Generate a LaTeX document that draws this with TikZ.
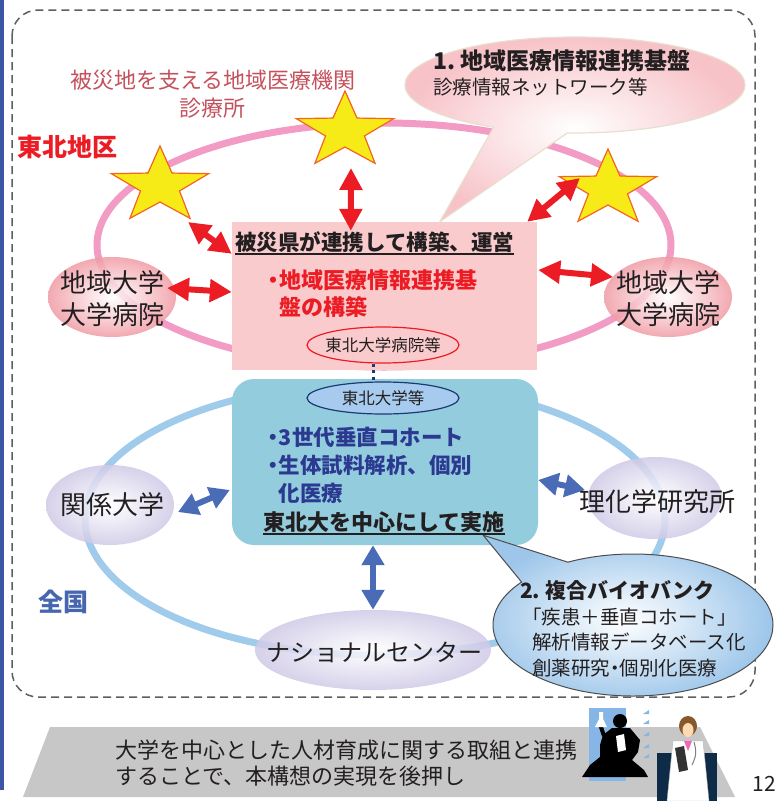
\documentclass[tikz,border=0pt]{standalone}
\usepackage{fontspec}
\setmainfont{Noto Sans CJK JP}
\usetikzlibrary{
    arrows.meta,
    shapes.geometric,
    shapes.callouts,
    calc,
    positioning
}

\definecolor{barblue}{HTML}{3A56A5}
\definecolor{framegray}{HTML}{5E5E5E}
\definecolor{ringpink}{HTML}{F29BC5}
\definecolor{ringblue}{HTML}{A0CBEB}
\definecolor{staryel}{HTML}{F6EB16}
\definecolor{starline}{HTML}{F26522}
\definecolor{hitpink}{HTML}{F9CBCD}
\definecolor{arrred}{HTML}{EC1C24}
\definecolor{arrblue}{HTML}{4A6BB5}
\definecolor{tealfill}{HTML}{93CDDD}
\definecolor{navytext}{HTML}{2B3990}
\definecolor{tuellfill}{HTML}{A7CBEE}
\definecolor{tuelldraw}{HTML}{1B3A73}
\definecolor{unipink}{HTML}{F09AA3}
\definecolor{unilav}{HTML}{CFC9E6}
\definecolor{supportred}{HTML}{C4515C}
\definecolor{zenblue}{HTML}{4666B0}
\definecolor{bubpink}{HTML}{F7C3C8}
\definecolor{bubedge}{HTML}{E8DFCC}
\definecolor{bubblue}{HTML}{9DC6EA}
\definecolor{bandgray}{HTML}{C7C7C7}
\definecolor{docnavy}{HTML}{0E2C47}
\definecolor{clipblue}{HTML}{86B6E6}
\definecolor{inkgray}{HTML}{231F20}

\newcommand{\nakaguro}{\makebox[0.5em]{・}}
\newcommand{\ulbar}[1]{\leavevmode\setbox0=\hbox{#1}\rlap{\raisebox{-4.5pt}{\rule{\wd0}{1.7pt}}}\box0}

\begin{document}
\begin{tikzpicture}[x=1pt, y=-1pt,
    txt/.style 2 args={inner sep=0, text=inkgray, font=\fontsize{#1}{#2}\selectfont},
    txtb/.style 2 args={inner sep=0, text=inkgray, font=\fontsize{#1}{#2}\selectfont\bfseries},
    starnode/.style={star, star points=5, star point ratio=2.5, minimum size=80,
        inner sep=0, draw=starline, line width=1.2, fill=staryel, xscale=1.28, transform shape},
    uni/.style={ellipse, inner sep=0, minimum width=128, minimum height=80,
        inner color=white, outer color=#1, fill opacity=.85},
    redarr/.style={draw=arrred, line width=6,
        {Triangle[length=22pt,width=22pt]}-{Triangle[length=22pt,width=22pt]}},
    bluearr/.style={draw=arrblue, line width=6,
        {Triangle[length=20pt,width=22pt]}-{Triangle[length=20pt,width=22pt]}}]
\useasboundingbox (0,0) rectangle (783,801);

\fill[barblue] (0,0) rectangle (4,790);
\draw[framegray, line width=1.5, dash pattern=on 8pt off 5pt, rounded corners=26] (12,10) rectangle (755,697);

\draw[ringpink, line width=7] (384,245) ellipse [x radius=287, y radius=122];
\draw[ringblue, line width=7] (375,519) ellipse [x radius=290, y radius=136];

\node[rectangle, fill=hitpink, minimum width=305, minimum height=148, inner sep=0] (hitbox) at (384.5,296) {};
\node[rectangle, fill=tealfill, rounded corners=22, minimum width=306, minimum height=166, inner sep=0] (tealbox) at (385,462) {};

\node[uni=unipink] (leftuni) at (112,297) {};
\node[uni=unipink] (rightuni) at (668,297) {};
\node[uni=unilav] (reluni) at (110,505) {};
\node[uni=unilav, minimum width=134, minimum height=82] (riken) at (655,498) {};
\node[uni=unilav, minimum width=236, minimum height=80] (natcen) at (373,650) {};

\node[shift={(160,186)}, starnode] (star1) {};
\node[shift={(345,131)}, starnode] (star2) {};
\node[shift={(608,189)}, starnode] (star3) {};

\node[ellipse, draw=arrred, line width=1.2, minimum width=152, minimum height=36, inner sep=0] (hpell) at (383,345) {};
\node[ellipse, draw=tuelldraw, fill=tuellfill, line width=1.2, minimum width=152, minimum height=32, inner sep=0] (tuell) at (383,398) {};

\node[ellipse callout, callout absolute pointer={($(hitbox.north west)+(208,0)$)}, callout pointer arc=26,
    minimum width=340, minimum height=96, inner sep=0,
    inner color=white, outer color=bubpink, draw=bubedge, line width=1.2] (bub1) at (575,85) {};
\node[ellipse callout, callout absolute pointer={($(tealbox.south east)+(-55,-10)$)}, callout pointer arc=25,
    minimum width=280, minimum height=142, inner sep=0,
    inner color=white, outer color=bubblue, draw=inkgray!80, line width=1] (bub2) at (633,625) {};

\draw
($(star1)+(28,36)$) edge[redarr] ($(hitbox.north west)+(0,32)$)
($(star2)+(6,37)$) edge[redarr] ($(hitbox.north west)+(119,9)$)
($(star3)+(-28,-11)$) edge[redarr] ($(hitbox.north east)+(-10,0)$)
($(leftuni)+(55,-9)$) edge[redarr] ($(hitbox.west)+(0,-4)$)
($(hitbox.east)+(1,-26)$) edge[redarr] ($(rightuni)+(-55,-20)$);

\draw
($(reluni)+(68,7)$) edge[bluearr] ($(tealbox.west)+(-2,28)$)
($(tealbox.east)+(0,18)$) edge[bluearr] ($(riken)+(-70,-8)$)
(natcen.north |- tealbox.south) edge[bluearr] (natcen.north);
\draw[tuelldraw, line width=3, dash pattern=on 3pt off 3.5pt] ($(hpell.south)+(-10,0)$) -- ($(tuell.north)+(-10,0)$);

\node[txtb={25}{30}, text=arrred, anchor=west] (tohoku) at (17,147) {東北地区};
\node[txtb={25}{30}, text=zenblue, anchor=west] (zenkoku) at (38,602) {全国};
\node[txt={22}{28}, text=supportred, align=center] (support) at (213,94) {被災地を支える地域医療機関\\診療所};
\node[txt={22}{25}, anchor=west, align=left] (bub1txt) at (433,72.5)
    {{\bfseries\fontsize{23}{25}\selectfont 1.\ 地域医療情報連携基盤}\\{\fontsize{19.5}{25}\selectfont 診療情報ネットワーク等}};

\node[txtb={21.5}{26}, anchor=base west] (hittitle) at (235,250) {\ulbar{被災県が連携して構築、運営}};
\node[txtb={22}{27}, text=arrred, anchor=west, align=left] (hitred) at (268,294)
    {\nakaguro 地域医療情報連携基\\\hspace*{0.5em}盤の構築};
\node[txt={16.5}{20}] (hpelltxt) at (hpell) {東北大学病院等};
\node[txt={16.5}{20}] (tuelltxt) at (tuell) {東北大学等};
\node[txtb={21.5}{28}, text=navytext, anchor=west, align=left] (cohort) at (268,465)
    {\nakaguro 3世代垂直コホート\\\nakaguro 生体試料解析、個別\\\hspace*{0.5em}化医療};
\node[txtb={22}{27}, anchor=base west] (tuhub) at (263,530) {\ulbar{東北大を中心にして実施}};

\node[txt={26}{32}, align=center] (leftunitxt) at (112,299) {地域大学\\大学病院};
\node[txt={26}{32}, align=center] (rightunitxt) at (668,299) {地域大学\\大学病院};
\node[txt={26}{32}] (relunitxt) at (112,505) {関係大学};
\node[txt={26}{32}] (rikentxt) at (657,502) {理化学研究所};
\node[txt={24}{30}] (natcentxt) at (374,652) {ナショナルセンター};

\node[txt={19.5}{25.5}, anchor=west, align=left] (bub2txt) at (520,629)
    {{\bfseries\fontsize{21}{25.5}\selectfont 2.\ 複合バイオバンク}\\\hspace*{2pt}「疾患＋垂直コホート」\\\hspace*{12pt}解析情報データベース化\\\hspace*{12pt}創薬研究\nakaguro 個別化医療};

\fill[bandgray] (50,727) -- (700,727) -- (735,797) -- (23,797) -- cycle;
\node[txt={22}{26}, anchor=west, align=left] (motto) at (115,763)
    {大学を中心とした人材育成に関する取組と連携\\することで、本構想の実現を後押し};

% scientist clip
\fill[clipblue] (589,708) rectangle (626,781);
\fill[black] (582,777) -- (590,765) -- (600,757) -- (600,745) -- (603,735) -- (612,728) -- (630,728)
    -- (640,740) -- (638,752) -- (632,760) -- (644,770) -- (648,777) -- cycle;
\fill[black] (620,721) circle (7);
\draw[black, line width=4] (604,736) -- (600,724);
\fill[white] (595,727) -- (599,719) -- (599,712) -- (603,712) -- (603,719) -- (607,727) -- cycle;
\fill[white] (616,736) -- (624,734) -- (626,750) -- (618,752) -- cycle;
\foreach \ty in {714,724,736,748,758}
    \fill[clipblue] (643,\ty) -- ++(6,-4) -- ++(0,4) -- cycle;

% doctor clip
\fill[docnavy] (657,753) rectangle (717,801);
\fill[white, draw=gray!60] (673,741) -- (703,741) -- (709,801) -- (667,801) -- cycle;
\fill[brown!70!black] (688,726) ellipse [x radius=9, y radius=10];
\fill[orange!30!white] (688,730) ellipse [x radius=5.5, y radius=7];
\fill[magenta!60] (684,741) -- (692,741) -- (688,751) -- cycle;
\fill[black!80] (675,748) -- (684,746) -- (688,770) -- (679,772) -- cycle;
\draw[gray, line width=1] (694,742) .. controls (698,755) and (694,760) .. (692,765);

\node[txt={21}{24}] (pageno) at (764,784) {12};
\end{tikzpicture}
\end{document}
